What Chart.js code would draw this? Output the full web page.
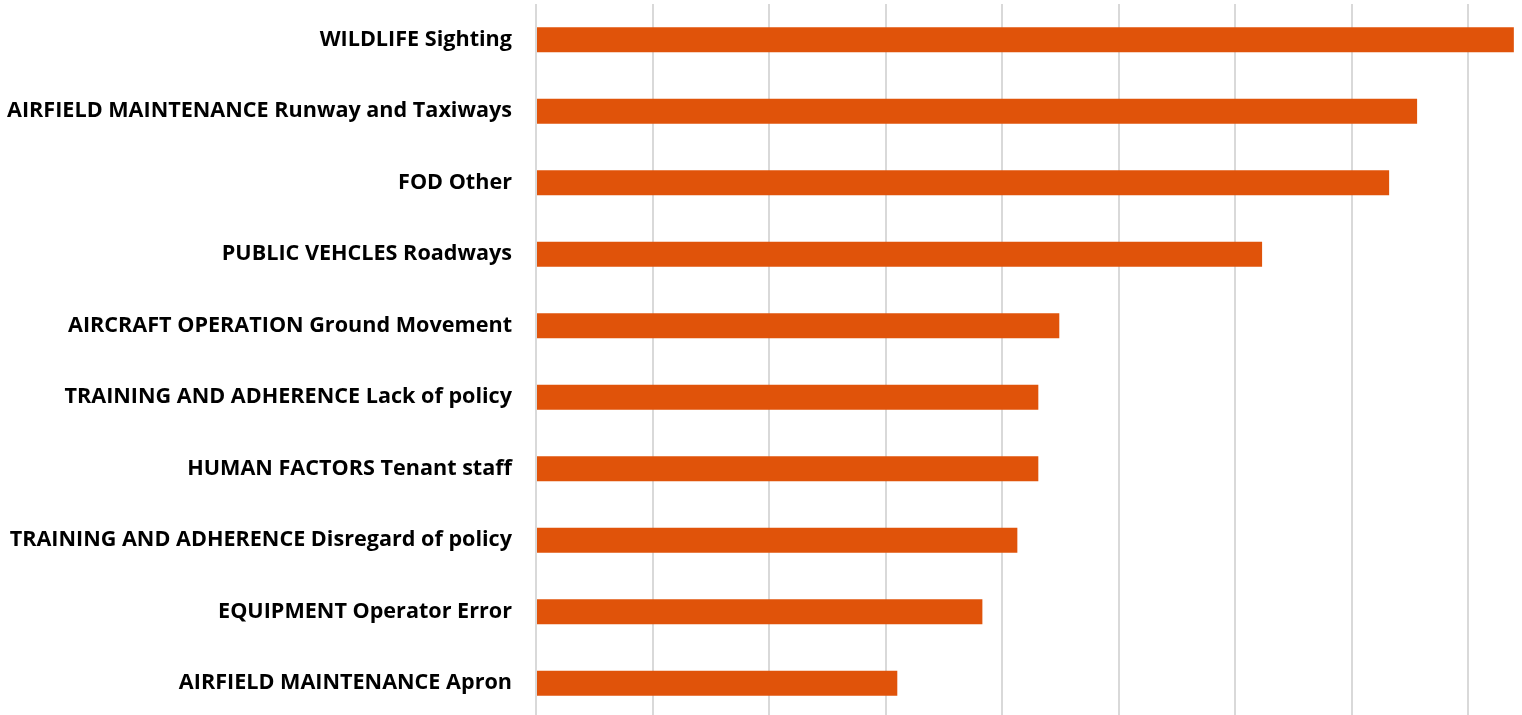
<!DOCTYPE html>
<html>
<head>
<meta charset="utf-8">
<script src="https://cdn.jsdelivr.net/npm/chart.js@4"></script>
<style>
  html, body { margin: 0; padding: 0; background: #fff; overflow: hidden; }
  #wrap { width: 1522px; height: 719px; position: relative; }
</style>
</head>
<body>
<div id="wrap"><canvas id="mychart"></canvas></div>
<script>
var categories = [
  "WILDLIFE Sighting",
  "AIRFIELD MAINTENANCE Runway and Taxiways",
  "FOD Other",
  "PUBLIC VEHCLES Roadways",
  "AIRCRAFT OPERATION Ground Movement",
  "TRAINING AND ADHERENCE Lack of policy",
  "HUMAN FACTORS Tenant staff",
  "TRAINING AND ADHERENCE Disregard of policy",
  "EQUIPMENT Operator Error",
  "AIRFIELD MAINTENANCE Apron"
]
var values = [8.39, 7.56, 7.32, 6.23, 4.49, 4.31, 4.31, 4.13, 3.83, 3.10]

var ctx = document.getElementById("mychart").getContext("2d")
var chart = new Chart(ctx, {
  type: "bar",
  data: {
    labels: categories,
    datasets: [{
      data: values,
      backgroundColor: "#E0530A",
      categoryPercentage: 1,
      barPercentage: 0.35
    }]
  },
  options: {
    indexAxis: "y",
    responsive: true,
    maintainAspectRatio: false,
    animation: false,
    layout: { padding: { top: 4, right: 0, bottom: 0, left: 0 } },
    plugins: { legend: { display: false }, tooltip: { enabled: false } },
    scales: {
      x: {
        min: 0,
        max: 8.46,
        ticks: { display: false, stepSize: 1 },
        border: { display: false },
        grid: {
          drawTicks: false,
          lineWidth: 2,
          color: function(c) {
            return (c.tick && Number.isInteger(c.tick.value)) ? "#d9d9d9" : "rgba(0,0,0,0)"
          }
        }
      },
      y: {
        afterFit: function(scale) {
          scale.width = 536
          scale.paddingTop = 0
          scale.paddingBottom = 0
        },
        border: { display: false },
        grid: { display: false, drawTicks: false },
        ticks: {
          color: "#000",
          padding: 24,
          font: { family: "Open Sans", weight: "bold", size: 21.6 }
        }
      }
    }
  }
})
</script>
</body>
</html>
